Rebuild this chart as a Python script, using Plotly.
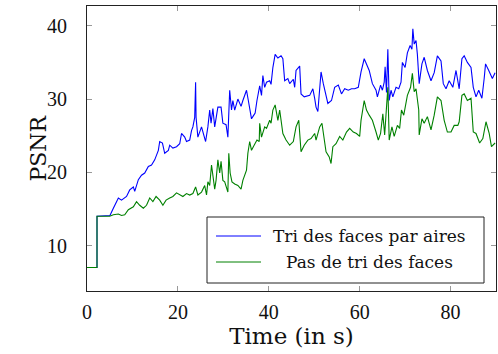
import plotly.graph_objects as go

# --- data -------------------------------------------------------------------
names = ["Tri des faces par aires", "Pas de tri des faces"]
colors = ["#0000ff", "#008000"]

t_blue = [0, 2.2, 2.2, 5.05, 5.8, 6.9, 7.6, 8.7, 9.4, 10.2, 10.5, 11.3, 12.0, 12.7,
          13.5, 14.2, 14.9, 15.7, 16.0, 16.6, 17.1, 17.9, 18.2, 18.9, 19.7, 20.4,
          20.8, 21.5, 21.9, 22.6, 23.0, 23.3, 23.7, 23.9, 24.0, 24.4, 25.2, 25.5,
          26.1, 26.6, 27.0, 27.3, 27.7, 28.1, 28.4, 28.8, 29.5, 29.9, 30.6, 31.0,
          31.4, 31.8, 32.1, 32.5, 33.2, 33.9, 34.3, 35.1, 35.5, 36.2, 36.6, 37.0,
          37.4, 38.0, 38.4, 38.7, 39.1, 39.5, 40.2, 40.5, 40.9, 41.4, 42.0, 42.7,
          43.1, 43.5, 44.2, 44.6, 45.4, 45.7, 46.0, 46.8, 47.1, 47.8, 49.0, 49.7,
          50.1, 50.4, 50.8, 51.2, 51.5, 52.0, 52.6, 53.0, 53.8, 54.5, 55.3, 56.0,
          56.7, 57.5, 58.2, 58.9, 59.7, 60.3, 61.0, 61.5, 62.1, 62.8, 63.6, 63.9,
          64.6, 65.0, 65.4, 65.6, 65.9, 66.2, 66.5, 66.9, 67.3, 68.0, 68.6, 69.1,
          69.4, 70.0, 70.5, 71.1, 71.5, 71.7, 72.0, 72.4, 72.7, 73.1, 73.7, 74.2,
          74.9, 75.7, 76.4, 77.1, 77.9, 78.4, 79.0, 79.7, 80.5, 81.2, 81.9, 82.5,
          83.0, 83.7, 84.5, 85.0, 85.6, 86.2, 86.9, 87.4, 87.7, 88.4, 89.2, 89.8]
psnr_blue = [7, 7, 14, 14.1, 15.1, 16.5, 16.2, 16.7, 17.6, 18.0, 17.4, 19.0, 19.6, 19.9,
             20.8, 21.0, 21.7, 23.0, 24.2, 24.0, 22.6, 23.0, 23.7, 23.3, 23.5, 23.9,
             25.3, 24.8, 24.2, 24.4, 25.7, 26.2, 27.5, 32.3, 27.5, 24.8, 26.2, 25.5,
             24.2, 26.2, 28.5, 26.7, 28.7, 26.2, 27.3, 28.9, 28.9, 26.7, 26.5, 24.8,
             31.2, 28.5, 29.8, 28.5, 30.0, 29.0, 29.8, 31.2, 29.8, 27.3, 27.7, 28.1,
             29.8, 31.8, 30.5, 33.2, 31.6, 32.3, 32.5, 32.0, 34.3, 36.1, 35.6, 35.9,
             35.5, 32.5, 32.8, 32.1, 32.7, 31.6, 33.9, 34.5, 30.7, 30.3, 30.5, 31.4,
             30.1, 28.9, 28.3, 31.2, 33.7, 32.1, 30.3, 29.4, 29.8, 31.6, 31.9, 30.7,
             31.4, 31.2, 31.4, 31.4, 31.6, 33.7, 35.5, 34.8, 33.9, 32.1, 31.2, 30.3,
             31.9, 31.2, 32.3, 34.4, 30.9, 36.8, 29.8, 31.2, 30.3, 31.6, 31.4, 32.3,
             35.0, 34.3, 36.3, 37.3, 36.8, 39.6, 37.5, 38.0, 36.1, 32.1, 34.8, 35.7,
             33.9, 32.5, 33.6, 35.9, 35.2, 32.1, 31.4, 32.5, 31.6, 33.9, 31.4, 35.5,
             35.9, 35.0, 34.3, 31.6, 30.3, 31.2, 30.1, 32.8, 34.8, 33.9, 32.8, 33.6]

t_green = [0, 2.2, 2.2, 5.0, 5.8, 6.9, 7.6, 8.3, 9.1, 10.2, 10.9, 11.6, 12.4, 13.1,
           13.8, 14.5, 15.2, 16.0, 16.7, 17.4, 18.2, 18.9, 19.7, 20.4, 21.1, 21.9,
           22.6, 23.3, 23.9, 24.4, 25.2, 25.9, 26.3, 26.6, 27.0, 27.4, 27.7, 28.1,
           28.4, 28.8, 29.2, 29.5, 29.9, 30.3, 31.0, 31.2, 31.5, 31.9, 32.5, 33.2,
           33.9, 34.3, 35.1, 35.4, 35.8, 36.2, 36.6, 37.4, 37.9, 38.0, 38.4, 38.7,
           39.1, 39.5, 40.2, 40.5, 40.9, 41.4, 42.0, 42.4, 43.1, 43.8, 44.6, 45.4,
           46.0, 46.6, 47.1, 47.8, 48.6, 49.3, 50.1, 50.4, 51.2, 51.7, 52.1, 52.6,
           53.3, 53.7, 54.1, 54.8, 55.6, 56.3, 57.1, 57.8, 58.6, 59.3, 60.0, 60.3,
           61.0, 61.5, 62.1, 62.8, 63.6, 64.1, 64.6, 65.1, 65.5, 65.9, 66.2, 66.5,
           67.1, 67.6, 68.3, 68.8, 69.2, 69.7, 70.5, 71.2, 71.6, 72.0, 72.4, 73.0,
           73.1, 73.7, 74.2, 74.9, 75.7, 76.4, 77.1, 77.9, 78.6, 79.3, 80.1, 80.8,
           81.6, 81.9, 82.5, 83.0, 83.7, 84.5, 85.0, 85.6, 86.4, 87.1, 87.8, 88.5,
           89.0, 89.8]
psnr_green = [7, 7, 14, 14, 14.2, 14.3, 14.1, 14.2, 14.9, 15.3, 16.0, 15.5, 15.1, 15.5,
              16.5, 16.0, 16.7, 16.2, 15.5, 16.2, 16.5, 16.7, 17.2, 16.9, 16.7, 17.1,
              16.9, 17.1, 18.0, 16.9, 17.3, 18.2, 16.9, 18.7, 18.2, 21.0, 19.3, 17.7,
              18.9, 21.7, 19.9, 21.5, 18.9, 18.7, 17.3, 22.6, 19.9, 18.7, 18.4, 18.2,
              17.7, 18.9, 20.3, 22.6, 24.2, 23.0, 23.5, 24.4, 24.2, 26.7, 24.8, 25.3,
              26.2, 26.0, 27.1, 26.7, 28.5, 29.2, 27.1, 28.5, 25.3, 24.4, 23.7, 24.2,
              26.2, 27.1, 22.8, 23.7, 24.4, 24.6, 25.3, 24.4, 26.2, 26.7, 24.9, 22.8,
              22.1, 21.2, 23.5, 23.9, 24.9, 24.4, 25.5, 26.0, 25.5, 25.3, 24.9, 27.1,
              29.8, 28.5, 27.8, 27.1, 25.5, 24.4, 25.3, 28.0, 25.1, 29.8, 31.6, 24.4,
              26.2, 24.9, 26.4, 26.0, 28.5, 27.8, 30.5, 31.6, 33.5, 31.0, 31.4, 28.5,
              25.1, 27.3, 26.7, 27.6, 25.8, 27.8, 30.3, 29.8, 27.1, 25.5, 25.5, 26.4,
              26.4, 26.9, 30.5, 30.7, 29.8, 30.1, 25.5, 25.3, 24.0, 24.6, 26.9, 25.3,
              23.5, 24.0]

x_ticks = [0, 20, 40, 60, 80]
y_ticks = [10, 20, 30, 40]
x_range = [0, 90]
y_range = [3.8, 42.7]

# --- figure -------------------------------------------------------------------
NUM_FONT = "Liberation Serif"
TXT_FONT = "DejaVu Serif"
fig = go.Figure()
for t, v, n, c in [(t_blue, psnr_blue, names[0], colors[0]),
                   (t_green, psnr_green, names[1], colors[1])]:
    fig.add_trace(go.Scatter(x=t, y=v, mode="lines", name=n,
                             line=dict(color=c, width=1.1), showlegend=False))

axis_common = dict(showline=True, linecolor="#222", linewidth=1, mirror="ticks",
                   ticks="inside", ticklen=5, tickcolor="#999", tickwidth=1,
                   showgrid=False, zeroline=False,
                   tickfont=dict(family=NUM_FONT, size=20, color="#111"))
fig.update_xaxes(range=x_range, tickvals=x_ticks, ticklabelstandoff=3,
                 title=dict(text="Time (in s)", font=dict(family=TXT_FONT, size=23, color="#111"),
                            standoff=2), **axis_common)
fig.update_yaxes(range=y_range, tickvals=y_ticks, ticklabelstandoff=15, **axis_common)

# layout geometry in pixels -> paper coordinates
W, H = 498, 354
ml, mr, mt, mb = 87, 2, 6, 63
pw, ph = W - ml - mr, H - mt - mb
def px(x):
    return (x - ml) / pw
def py(y):
    return 1 - (y - mt) / ph

# y axis title
fig.add_annotation(xref="paper", yref="paper", x=px(38), y=0.5, text="PSNR",
                   textangle=-90, showarrow=False, xanchor="center", yanchor="middle",
                   font=dict(family=TXT_FONT, size=22, color="#111"))

# legend box
fig.add_shape(type="rect", xref="paper", yref="paper", x0=px(207), x1=px(484),
              y0=py(283), y1=py(217), line=dict(color="#222", width=1), fillcolor="white")
for i, (n, c) in enumerate(zip(names, colors)):
    yy = 236 + i * 26
    fig.add_shape(type="line", xref="paper", yref="paper", x0=px(216), x1=px(261),
                  y0=py(yy), y1=py(yy), line=dict(color=c, width=1))
    fig.add_annotation(xref="paper", yref="paper", x=px(369), y=py(yy), text=n,
                       showarrow=False, xanchor="center", yanchor="middle",
                       font=dict(family=TXT_FONT, size=17, color="#111"))

fig.update_layout(width=W, height=H, margin=dict(l=ml, r=mr, t=mt, b=mb),
                  plot_bgcolor="white", paper_bgcolor="white")
fig.write_html("out.html")
